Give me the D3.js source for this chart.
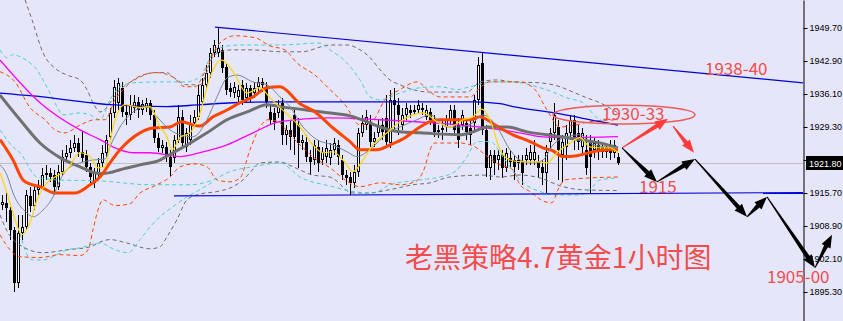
<!DOCTYPE html>
<html>
<head>
<meta charset="utf-8">
<script src="https://cdn.jsdelivr.net/npm/d3@7"></script>
<style>
html, body { margin: 0; padding: 0; background: #e6e6fa; }
svg { display: block; }
</style>
</head>
<body>
<script>
var width = 843, height = 321, plotRight = 803;

// hourly candles, XAUUSD
var opens = [1913.3,1913.7,1912.2,1908.1,1897.2,1907.5,1908.7,1915.1,1913.1,1916.4,1917.0,1919.4,1919.9,1919.4,1917.0,1920.1,1923.2,1924.0,1925.0,1926.0,
  1924.2,1923.6,1921.1,1917.8,1919.9,1921.9,1924.0,1927.3,1932.2,1934.3,1937.4,1932.4,1931.8,1933.3,1934.5,1932.8,1933.3,1934.3,1931.8,1927.1,
  1925.0,1925.2,1923.2,1923.0,1926.7,1931.4,1925.2,1926.7,1930.2,1931.4,1934.5,1938.0,1940.5,1944.6,1944.6,1945.2,1941.7,1937.4,1936.3,1935.5,
  1938.0,1935.3,1937.4,1936.3,1937.6,1938.0,1937.6,1932.4,1932.2,1932.2,1934.3,1927.7,1928.7,1931.8,1929.7,1926.0,1926.3,1923.2,1922.5,1925.2,
  1922.5,1923.2,1923.0,1924.6,1925.6,1922.5,1919.4,1919.0,1917.8,1920.1,1928.1,1929.7,1930.4,1926.3,1928.1,1929.7,1931.2,1926.0,1934.9,1933.9,
  1929.7,1931.8,1932.8,1932.8,1932.8,1933.3,1931.4,1932.4,1930.8,1928.7,1929.1,1929.3,1930.8,1932.8,1929.7,1929.7,1930.2,1929.1,1930.2,1934.9,
  1942.5,1928.7,1920.9,1923.6,1922.5,1923.6,1920.9,1923.0,1922.5,1921.9,1922.1,1922.5,1922.5,1922.5,1922.1,1921.1,1919.9,1926.3,1928.1,1929.3,
  1923.6,1925.2,1928.1,1930.8,1928.1,1925.2,1924.6,1926.3,1924.6,1925.6,1925.2,1925.2,1925.6,1924.0,1923.2];
var highs = [1915.3,1915.7,1912.9,1908.7,1911.2,1911.2,1916.4,1917.0,1917.4,1918.4,1920.9,1921.5,1920.9,1920.5,1921.5,1924.6,1925.6,1926.7,1927.7,1927.1,
  1928.5,1924.6,1921.9,1920.9,1923.0,1925.6,1927.7,1933.3,1939.0,1939.4,1938.6,1933.9,1935.9,1935.9,1935.5,1934.9,1935.3,1934.9,1932.8,1928.1,
  1926.7,1926.3,1924.6,1927.7,1933.9,1932.8,1929.1,1931.8,1932.8,1938.0,1939.4,1942.1,1945.6,1947.3,1949.9,1946.2,1942.5,1938.4,1938.6,1938.0,
  1939.0,1938.4,1938.0,1938.6,1939.6,1939.4,1938.6,1933.9,1933.3,1934.9,1935.3,1929.7,1930.8,1932.8,1931.2,1927.7,1927.7,1924.6,1926.7,1926.7,
  1925.2,1926.7,1926.0,1927.1,1926.7,1923.6,1920.5,1920.1,1921.5,1929.1,1931.8,1932.8,1931.8,1928.3,1930.8,1931.2,1935.9,1937.0,1937.4,1935.3,
  1933.3,1934.3,1933.9,1933.9,1934.9,1934.3,1933.9,1933.3,1931.8,1929.7,1930.8,1931.8,1933.9,1933.9,1931.2,1932.8,1931.2,1930.8,1935.9,1943.8,
  1944.8,1929.7,1924.6,1924.6,1924.6,1924.6,1925.0,1924.6,1923.6,1923.6,1923.6,1925.0,1925.6,1926.7,1923.6,1922.5,1925.6,1929.1,1934.3,1930.8,
  1927.7,1929.7,1931.8,1931.8,1929.7,1929.1,1927.7,1927.7,1927.1,1926.7,1926.0,1926.0,1926.7,1926.7,1924.0];
var lows = [1912.2,1909.8,1906.1,1895.3,1896.2,1906.1,1908.1,1911.8,1912.2,1915.3,1916.4,1918.4,1918.0,1915.3,1916.4,1919.4,1922.5,1923.0,1924.2,1923.2,
  1922.1,1920.1,1917.8,1916.8,1918.8,1921.1,1923.2,1926.3,1931.2,1932.8,1931.4,1929.7,1930.8,1932.2,1931.2,1931.8,1932.4,1930.8,1926.0,1924.2,
  1924.0,1922.1,1919.0,1921.9,1926.0,1925.0,1924.2,1925.6,1929.3,1930.8,1933.9,1937.0,1939.4,1943.8,1943.8,1940.5,1935.9,1935.5,1935.3,1933.9,
  1933.9,1934.5,1934.3,1935.3,1936.5,1936.5,1933.3,1929.7,1928.7,1931.2,1925.6,1925.6,1924.6,1923.6,1920.9,1924.6,1922.1,1919.4,1921.5,1920.1,
  1921.5,1921.9,1921.5,1923.6,1921.5,1918.4,1917.4,1915.3,1916.8,1919.0,1927.3,1928.7,1925.2,1925.2,1927.3,1926.7,1925.0,1925.0,1928.7,1927.7,
  1928.7,1930.8,1931.2,1931.8,1932.2,1931.8,1930.8,1929.7,1927.3,1927.1,1926.7,1928.3,1929.7,1927.7,1925.0,1928.7,1926.7,1925.6,1928.7,1933.9,
  1927.7,1919.0,1918.4,1919.4,1920.5,1918.8,1920.1,1920.9,1918.4,1920.5,1917.4,1921.5,1921.5,1921.5,1918.8,1917.4,1915.7,1924.6,1926.7,1918.4,
  1918.0,1922.5,1926.7,1924.6,1924.6,1923.6,1919.4,1915.7,1923.0,1922.5,1923.0,1923.0,1922.5,1923.0,1921.5];
var closes = [1913.9,1912.7,1908.1,1897.2,1907.5,1908.7,1915.3,1913.1,1916.4,1917.0,1919.4,1919.9,1919.0,1917.0,1920.1,1923.2,1924.0,1925.0,1926.0,1924.2,
  1923.0,1921.1,1919.0,1919.9,1921.9,1924.0,1926.7,1932.2,1937.6,1938.4,1932.4,1931.8,1933.9,1934.5,1932.8,1934.1,1934.3,1931.8,1927.1,1925.0,
  1925.6,1923.2,1921.1,1926.7,1931.4,1926.0,1928.1,1930.2,1931.4,1935.9,1938.0,1940.5,1944.6,1946.2,1945.6,1941.5,1937.0,1936.5,1937.6,1937.0,
  1934.9,1937.4,1935.3,1937.4,1938.6,1938.6,1934.5,1930.8,1930.4,1933.9,1927.7,1928.7,1927.3,1927.3,1926.0,1926.7,1923.2,1922.1,1925.6,1921.9,
  1924.2,1925.0,1924.6,1926.0,1923.2,1919.4,1918.8,1917.8,1920.1,1928.1,1930.2,1931.4,1926.3,1927.1,1929.3,1928.3,1926.3,1934.9,1933.9,1931.8,
  1931.8,1933.3,1932.2,1932.4,1933.9,1932.8,1932.8,1930.8,1928.3,1928.3,1928.7,1930.8,1932.8,1928.7,1926.7,1931.8,1928.3,1927.7,1934.9,1942.1,
  1928.7,1920.9,1923.6,1921.9,1923.6,1920.9,1924.0,1922.1,1921.1,1922.5,1919.9,1923.6,1924.2,1924.2,1920.9,1919.9,1924.2,1928.1,1931.8,1924.6,
  1926.3,1928.1,1930.8,1927.1,1926.3,1928.1,1920.9,1923.2,1926.0,1924.6,1924.2,1924.2,1924.0,1925.6,1921.8];

// moving averages as [bar, price]
var maYellow = [[-0.5,1919.9],[1.25,1915.7],[2.75,1911.6],[5,1907.1],[7,1909.6],[8.75,1914.3],[11.25,1917.8],[13.25,1919.0],[16.25,1920.5],[19.5,1924.0],
  [22,1923.2],[24,1920.9],[25.75,1921.1],[27.75,1929.3],[30.75,1933.9],[34.5,1933.3],[37,1933.5],[39.5,1929.3],[41.25,1927.3],[42.5,1924.6],
  [44.5,1927.1],[47,1928.1],[49.5,1932.2],[52,1939.6],[55,1943.1],[57.75,1940.7],[61.25,1936.3],[64.5,1937.4],[67,1935.3],[69.5,1933.3],
  [72,1931.4],[74.5,1929.3],[77.75,1925.6],[80.25,1924.0],[82.75,1924.2],[85.25,1922.5],[87.75,1920.1],[90.25,1922.5],[92.75,1925.6],[96.25,1928.1],
  [99.5,1930.4],[102.75,1931.8],[105.25,1932.2],[108.75,1930.4],[112,1929.3],[115.25,1930.8],[117.75,1931.4],[120,1933.0],[122,1930.8],[124.5,1924.6],
  [127,1922.5],[130.25,1922.1],[133.75,1922.1],[136.25,1921.9],[138.75,1924.0],[142,1926.0],[144.5,1927.1],[147,1925.2],[149.5,1925.0],[152,1925.0],[154,1924.0]];
var maSlate = [[-0.5,1921.5],[1.25,1919.4],[2.75,1915.7],[6.25,1911.6],[7.75,1910.8],[10.25,1912.2],[12.75,1914.9],[14.5,1918.4],[16.25,1920.5],[19.5,1921.9],
  [22.75,1922.5],[25.75,1922.7],[27,1925.2],[29.5,1929.3],[32.75,1932.4],[36.25,1933.5],[38.75,1931.4],[42,1928.7],[44.5,1927.7],[47.75,1927.3],
  [51.25,1930.8],[53.75,1935.5],[56.25,1939.4],[58.75,1940.0],[62.75,1938.6],[66.25,1938.0],[69.5,1935.5],[72,1933.5],[75.25,1929.3],[78.75,1926.7],
  [82.75,1925.6],[86.25,1924.2],[88.75,1923.2],[91.25,1924.2],[93.75,1926.0],[96.25,1928.1],[99.5,1929.3],[103.75,1930.8],[107,1931.8],[111.25,1929.3],
  [114.5,1929.3],[117.75,1930.2],[120.25,1931.8],[123.75,1929.3],[127,1924.6],[129.5,1922.5],[132.75,1921.9],[135.25,1922.5],[137.75,1925.6],[141.25,1927.3],
  [144.5,1927.7],[147.75,1925.6],[151.25,1925.2],[154,1925.0]];
var maOrange = [[-0.5,1926.7],[2.75,1922.5],[5.25,1918.4],[6.25,1917.8],[9.5,1917.0],[13.25,1915.7],[18.25,1915.7],[22,1917.4],[24.5,1919.0],[27,1921.9],
  [29.5,1924.6],[34.5,1928.1],[37.75,1929.1],[42,1929.3],[45,1930.4],[47.75,1929.7],[49.5,1929.5],[52.75,1931.4],[56.25,1932.8],[59.5,1934.3],
  [62.75,1935.5],[66.25,1937.4],[69.5,1937.6],[74.5,1934.1],[78.25,1932.4],[82.75,1929.1],[87,1926.3],[89.5,1924.6],[93.75,1924.6],[97,1925.6],
  [100.75,1927.1],[104.5,1929.3],[107,1930.4],[109.5,1930.8],[117,1930.8],[119.5,1931.4],[121.25,1930.8],[124.5,1929.1],[127.75,1927.7],[132,1926.3],
  [135.25,1925.0],[137.75,1924.4],[140.25,1923.2],[143.75,1923.4],[147.75,1924.2],[152,1924.6],[154,1924.6]];
var maGray = [[-0.5,1935.9],[4.5,1930.8],[9.5,1926.0],[14.5,1923.0],[19.5,1921.1],[24.5,1919.7],[27,1919.9],[29.5,1920.5],[34.5,1921.5],[39.5,1922.5],
  [42.75,1924.0],[46.25,1925.6],[51.25,1928.1],[56.25,1930.8],[61.25,1932.4],[66.25,1933.9],[69.5,1933.5],[82,1932.2],[87,1931.6],[91.25,1930.4],
  [94.5,1929.3],[99.5,1928.3],[104.5,1928.1],[114.5,1927.7],[117.75,1928.3],[121.25,1929.3],[126.25,1929.3],[131.25,1928.3],[136.25,1927.7],[144.5,1926.7],
  [149.5,1926.0],[154,1925.0]];
var maMagenta = [[-0.5,1943.1],[9.5,1934.3],[19.5,1928.7],[24.5,1926.7],[28.25,1925.0],[32.75,1924.0],[37,1924.0],[44.5,1923.2],[49.5,1924.0],[56.25,1925.6],
  [62.75,1928.1],[69.5,1930.4],[82,1931.2],[94.5,1930.8],[107,1930.2],[119.5,1929.3],[129.5,1928.1],[134.5,1927.3],[139.5,1927.1],[154,1927.3]];
var maBlue = [[-0.5,1936.3],[7.75,1935.7],[20.25,1934.5],[27,1933.9],[41.25,1933.5],[49.5,1933.9],[57.75,1934.3],[69.5,1934.5],[94.5,1934.5],[117.75,1934.5],
  [124.5,1934.1],[127.75,1933.5],[138.25,1932.2],[149.5,1930.4],[154,1929.7]];

// envelope / band lines
var bandOrangeUp = [[-0.5,1940.7],[3.25,1938.6],[7,1933.3],[10.75,1930.8],[13.25,1928.7],[15.75,1928.1],[19.5,1929.7],[23.25,1930.8],[25.75,1930.8],[28.25,1934.9],
  [30.75,1937.4],[34.5,1939.8],[38.75,1940.5],[42.75,1939.6],[45.75,1937.6],[48.25,1937.6],[50.75,1940.7],[54,1946.2],[58.25,1948.1],[63.25,1947.7],
  [67,1946.0],[70.75,1945.2],[73.75,1942.5],[78.25,1940.0],[82,1937.0],[85.75,1933.9],[89.5,1929.7],[92.5,1930.4],[95.75,1934.9],[99.5,1937.0],
  [103.75,1938.6],[107,1936.5],[109.5,1935.5],[117,1935.5],[119.5,1937.4],[122,1938.6],[129.5,1938.6],[133.25,1937.0],[136.25,1932.8],[139.5,1929.3],
  [143.25,1929.7],[147,1930.4],[154,1930.8]];
var bandOrangeLo = [[-0.5,1907.1],[2,1904.0],[4.5,1902.6],[9.5,1902.4],[14.5,1903.0],[19.5,1902.8],[21.5,1904.0],[22.75,1908.1],[24,1912.2],[25.25,1914.3],
  [28.25,1913.1],[32,1913.5],[34.5,1915.7],[38.25,1917.2],[42,1919.0],[44.5,1921.1],[48.25,1921.7],[51.25,1921.1],[53.75,1918.4],[57,1918.0],
  [59.5,1918.8],[62,1924.6],[64.5,1929.3],[66.5,1930.8],[69,1930.4],[72,1927.7],[74.5,1925.6],[77.75,1923.2],[82,1920.9],[85.75,1918.4],
  [89.5,1917.0],[94.5,1917.8],[99.5,1917.4],[103.25,1918.0],[105.75,1921.1],[107,1924.6],[108.25,1926.0],[114.5,1926.0],[118.25,1925.2],[120.75,1923.6],
  [124.5,1921.5],[127.75,1920.5],[129.5,1917.4],[132,1916.0],[135.75,1913.9],[137.5,1913.7],[139,1916.4],[140.75,1918.4],[147,1918.8],[154,1919.0]];
var bandCyanUp = [[-0.5,1945.2],[1.25,1943.6],[2.75,1944.2],[4.5,1943.8],[7,1942.5],[8.75,1941.1],[10.25,1939.0],[12,1936.3],[13.75,1933.5],[15.25,1931.8],
  [19.5,1932.2],[22,1931.8],[24.5,1930.8],[27,1934.9],[29.5,1937.6],[32.75,1938.4],[39.5,1938.6],[46.25,1938.6],[49.5,1939.6],[52.75,1944.6],
  [55.25,1945.8],[59.5,1946.2],[69.5,1946.2],[79.5,1946.6],[82,1945.2],[86.25,1942.5],[89.5,1939.0],[92,1935.5],[94.5,1934.9],[99.5,1936.3],
  [104.5,1937.4],[109.5,1937.6],[113.75,1937.0],[117,1937.6],[122.75,1938.6],[127.75,1938.6],[132.75,1937.8],[137.75,1936.5],[141.25,1935.3],[145.25,1934.3],
  [148.75,1931.2],[154,1929.7]];
var bandCyanMid = [[-0.5,1928.7],[2.75,1925.2],[4.5,1924.0],[8.75,1919.0],[13.75,1918.4],[24.5,1918.2],[37,1917.4],[47,1917.4],[52.75,1918.4],[57,1920.1],
  [62.75,1921.1],[69.5,1921.9],[74.5,1919.0],[82.75,1917.0],[87.75,1916.0],[92.75,1915.7],[97,1917.4],[104.5,1918.4],[109.5,1919.0],[113.25,1920.1],
  [116.25,1923.2],[118.75,1926.3],[122,1926.3],[125.75,1922.5],[129.5,1918.4],[134.5,1916.0],[139.5,1915.3],[144.5,1915.3],[147,1916.4],[149.5,1918.4],[154,1918.8]];
var bandCyanLo = [[4.5,1907.5],[6.25,1903.0],[7.75,1901.9],[10.25,1901.9],[12.75,1902.6],[16.25,1904.0],[19.5,1904.4],[24.5,1905.4],[28.25,1904.0],[31.5,1903.4],
  [34.5,1906.1],[37,1908.7],[39.5,1910.8],[42.75,1912.9],[46.25,1914.9],[49.5,1916.4],[52.75,1918.0]];
var bandGrayUp = [[5.75,1955.5],[7.5,1951.4],[10.25,1944.6],[13.75,1941.1],[16.25,1940.0],[19.5,1939.0],[21.25,1937.0],[22.75,1934.3],[24.5,1932.4],[29.5,1937.0],
  [34.5,1939.6],[37.75,1940.5],[41.25,1940.5],[42.75,1939.6],[46.25,1938.0],[49.5,1938.0],[52.75,1943.8],[54.5,1944.8],[57.75,1945.2],[62,1945.2],
  [70.25,1944.8],[75,1944.8],[82,1946.2],[86.25,1946.2],[89.5,1945.2],[92,1943.6],[94.5,1941.1],[97,1939.0],[99.5,1938.0],[102.75,1937.0],
  [107,1936.5],[116.25,1936.5],[119.5,1938.6],[123.75,1939.0],[127.75,1938.6],[134.5,1938.4],[139.5,1937.6],[142.75,1936.5],[146.25,1935.3],[149.5,1934.3],[154,1932.2]];
var bandGrayLo = [[-0.5,1911.2],[1.5,1907.5],[4.5,1905.0],[10.25,1903.4],[16.25,1904.0],[22,1904.6],[24.5,1905.6],[27,1906.1],[31.25,1905.4],[37,1904.2],
  [39.5,1904.6],[41.25,1906.7],[43.75,1910.2],[46.25,1914.3],[49.5,1915.5],[53.75,1916.0],[57.75,1917.0],[60.25,1918.4],[62,1919.9],[64.5,1921.9],
  [69.5,1922.1],[72.75,1921.1],[77.75,1919.4],[82,1919.0],[87.75,1915.7],[91.25,1915.7],[97,1916.4],[102.75,1917.4],[107,1917.8],[112,1919.0],
  [120.25,1919.4],[124.5,1919.0],[129.5,1919.4],[134.5,1918.8],[139.5,1917.2],[144.5,1916.4],[154,1916.2]];

// hand-drawn objects
var trendUpper = [[53.25,1949.9],[200.25,1938.4]];
var trendLower = [[43,1915.1],[200.25,1915.8]];
var lastPrice = 1921.8;
var priceTicks = [1949.7,1942.9,1936.1,1929.3,1922.5,1915.7,1908.9,1902.1,1895.3];
var redArrows = [[[155,1925.0],[166.5,1931.0]], [[167.75,1929.5],[173,1924.0]]];
var blackArrows = [[[155,1925.0],[163.75,1918.0]], [[163.75,1918.0],[173.25,1922.7]], [[173.25,1922.7],[186.25,1910.8]],
  [[186.25,1910.8],[191.25,1914.9]], [[191.25,1914.9],[203.25,1900.3]], [[203.25,1900.3],[207.5,1907.1]]];
var targetBox = {left: 137.75, right: 173.25, top: 1933.8, bottom: 1929.9};
var notes = [
  {text: "1938-40", bar: 175.75, price: 1940.0, size: 17},
  {text: "1930-33", bar: 150, price: 1930.8, size: 17},
  {text: "1915", bar: 159.25, price: 1915.7, size: 17},
  {text: "1905-00", bar: 191.25, price: 1897.2, size: 17},
  {text: "老黑策略4.7黄金1小时图", bar: 100.75, price: 1900.3, size: 28}
];

var x = d3.scaleLinear().domain([0, 200.25]).range([2, plotRight]);
var y = d3.scaleLinear().domain([1955.47, 1889.33]).range([0, height]);

var svg = d3.select("body").append("svg")
    .attr("width", width)
    .attr("height", height)
    .style("background", "#e6e6fa");

svg.append("defs").append("clipPath").attr("id", "plot")
  .append("rect").attr("x", 0).attr("y", 0).attr("width", plotRight).attr("height", height);

var plot = svg.append("g").attr("clip-path", "url(#plot)");

// current price line
plot.append("line")
    .attr("x1", 0).attr("x2", plotRight)
    .attr("y1", Math.round(y(lastPrice)) + 0.5).attr("y2", Math.round(y(lastPrice)) + 0.5)
    .attr("stroke", "#c0c0c0");

// candles
var bars = plot.append("g").attr("shape-rendering", "crispEdges");
closes.forEach(function(c, i) {
  var o = opens[i], cx = Math.round(x(i));
  bars.append("rect")
      .attr("x", cx).attr("y", Math.round(y(highs[i])))
      .attr("width", 1).attr("height", Math.max(1, Math.round(y(lows[i])) - Math.round(y(highs[i]))))
      .attr("fill", "#000");
  var top = Math.round(y(Math.max(o, c))), bot = Math.round(y(Math.min(o, c)));
  var h = Math.max(1, bot - top);
  bars.append("rect")
      .attr("x", cx - 1).attr("y", top).attr("width", 3).attr("height", h)
      .attr("fill", "#000");
  if (c > o && h > 2) {
    bars.append("rect")
        .attr("x", cx).attr("y", top + 1).attr("width", 1).attr("height", h - 2)
        .attr("fill", "#fff");
  }
});

var line = d3.line()
    .x(function(d) { return x(d[0]); })
    .y(function(d) { return y(d[1]); })
    .curve(d3.curveMonotoneX);

function drawLine(data, color, w, dash) {
  plot.append("path")
      .datum(data)
      .attr("d", line)
      .attr("fill", "none")
      .attr("stroke", color)
      .attr("stroke-width", w)
      .attr("stroke-dasharray", dash || null);
}

drawLine(bandGrayUp, "#6e6e6e", 1, "4,3");
drawLine(bandGrayLo, "#6e6e6e", 1, "4,3");
drawLine(bandCyanUp, "#48d1cc", 1, "4,3");
drawLine(bandCyanMid, "#48d1cc", 1, "4,3");
drawLine(bandCyanLo, "#48d1cc", 1, "4,3");
drawLine(bandOrangeUp, "#ff4500", 1, "4,3");
drawLine(bandOrangeLo, "#ff4500", 1, "4,3");
drawLine(maBlue, "#0000e0", 1.3);
drawLine(maMagenta, "#ff00ff", 1.3);
drawLine(maGray, "#707070", 3);
drawLine(maOrange, "#ff4500", 3);
drawLine(maSlate, "#778899", 1);
drawLine(maYellow, "#ffd700", 1.2);

// trend lines
[trendUpper, trendLower].forEach(function(t) {
  plot.append("line")
      .attr("x1", x(t[0][0])).attr("y1", y(t[0][1]))
      .attr("x2", x(t[1][0])).attr("y2", y(t[1][1]))
      .attr("stroke", "#0000d8").attr("stroke-width", 1.2);
});

// price axis
var axis = svg.append("g")
    .attr("transform", "translate(" + (plotRight + 0.5) + ",0)")
    .call(d3.axisRight(y).tickValues(priceTicks).tickSize(4).tickSizeOuter(0).tickPadding(2)
      .tickFormat(d3.format(".2f")));
axis.select(".domain").attr("stroke", "#000");
axis.selectAll(".tick line").attr("stroke", "#000");
axis.selectAll("text")
    .attr("fill", "#000")
    .style("font-family", "'Liberation Sans', Arial, sans-serif")
    .style("font-size", "9px");

var py = Math.round(y(lastPrice));
svg.append("rect")
    .attr("x", plotRight + 3).attr("y", py - 7).attr("width", width - plotRight - 3).attr("height", 14)
    .attr("fill", "#000");
svg.append("text")
    .attr("x", plotRight + 6).attr("y", py + 4)
    .attr("fill", "#fff")
    .style("font-family", "'Liberation Sans', Arial, sans-serif")
    .style("font-size", "9px")
    .text(d3.format(".2f")(lastPrice));

// target ellipse
svg.append("ellipse")
    .attr("cx", (x(targetBox.left) + x(targetBox.right)) / 2)
    .attr("cy", (y(targetBox.top) + y(targetBox.bottom)) / 2)
    .attr("rx", (x(targetBox.right) - x(targetBox.left)) / 2)
    .attr("ry", (y(targetBox.bottom) - y(targetBox.top)) / 2)
    .attr("fill", "none")
    .attr("stroke", "#f05a5a")
    .attr("stroke-width", 1.5);

// tapered arrows
function arrow(a, color) {
  var x0 = x(a[0][0]), y0 = y(a[0][1]), x1 = x(a[1][0]), y1 = y(a[1][1]);
  var dx = x1 - x0, dy = y1 - y0, len = Math.sqrt(dx * dx + dy * dy);
  var ux = dx / len, uy = dy / len, nx = -uy, ny = ux;
  var headLen = Math.min(13, len * 0.45), bx = x1 - ux * headLen, by = y1 - uy * headLen;
  var pts = [
    [x0 + nx * 0.5, y0 + ny * 0.5],
    [bx + nx * 2.2, by + ny * 2.2],
    [bx + nx * 5, by + ny * 5],
    [x1, y1],
    [bx - nx * 5, by - ny * 5],
    [bx - nx * 2.2, by - ny * 2.2],
    [x0 - nx * 0.5, y0 - ny * 0.5]
  ];
  svg.append("polygon")
      .attr("points", pts.map(function(p) { return p[0].toFixed(1) + "," + p[1].toFixed(1); }).join(" "))
      .attr("fill", color);
}
redArrows.forEach(function(a) { arrow(a, "#ff3b3b"); });
blackArrows.forEach(function(a) { arrow(a, "#000"); });

// notes
notes.forEach(function(n) {
  svg.append("text")
      .attr("x", x(n.bar)).attr("y", y(n.price))
      .attr("fill", "#f24c4c")
      .style("font-family", "'Noto Sans CJK SC', 'Noto Sans', sans-serif")
      .style("font-size", n.size + "px")
      .text(n.text);
});
</script>
</body>
</html>
